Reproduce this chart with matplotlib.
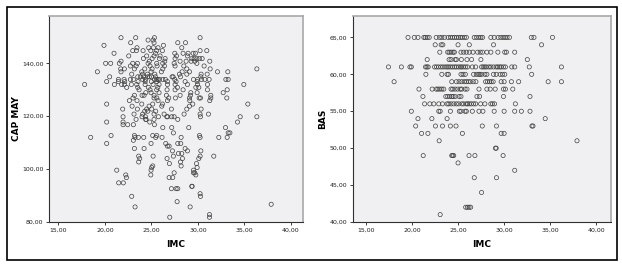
"""IMC vs CAP MAY and IMC vs BAS scatter plots"""

import matplotlib.pyplot as plt
from matplotlib.patches import Rectangle
from matplotlib.ticker import FuncFormatter

# left panel: IMC vs CAP MAY
imc_cap = [
    21.74, 23.32, 25.33, 30.24,
    24.65, 25.19,
    22.78, 25.29, 27.84, 28.67,
    19.91, 26.30,
    23.46, 24.72, 25.22, 25.72, 28.27,
    23.00, 23.39, 24.11, 24.94, 25.58, 26.19, 30.24, 30.96,
    20.99, 25.44, 27.52, 28.41, 28.95, 29.49, 29.74,
    22.57, 24.50, 25.29, 25.94, 27.70, 28.88,
    24.15, 25.08, 25.87, 26.48, 27.55, 29.35, 29.60, 29.89, 30.17, 30.46,
    21.74, 24.79, 26.44, 28.09, 28.74, 29.28, 29.67, 31.28,
    20.09, 20.63, 21.56, 23.00, 23.50, 24.65, 25.58, 26.23, 27.45, 29.89,
    22.75, 23.36, 24.86, 25.62, 26.41, 27.55, 28.49, 30.67,
    21.71, 22.10, 23.18, 24.29, 25.08, 26.23, 28.81, 31.32, 36.34,
    19.20, 21.74, 23.97, 24.97, 26.08, 28.31, 29.10, 32.11, 33.22,
    22.89, 24.07, 24.58, 25.37, 28.02, 28.81, 30.35, 31.00,
    20.52, 23.54, 23.82, 24.18, 24.61, 24.79, 25.01, 25.44, 27.23, 27.34, 28.13, 30.32,
    21.46, 22.07, 22.75, 23.07, 24.07, 24.36, 25.33, 25.58, 25.72, 25.87,
    26.23, 26.51, 27.52, 29.53, 29.96, 30.39, 30.75, 31.21, 33.01, 33.26,
    20.20, 21.46, 22.14, 23.57, 24.33, 25.01, 25.58, 26.73, 27.66, 28.63, 29.92,
    17.83, 21.03, 21.81, 22.10, 22.85, 23.43, 24.33, 25.19, 25.83, 26.73,
    27.55, 28.88, 29.96, 31.03, 34.94,
    22.35, 23.54, 24.68, 25.69, 27.80, 29.78, 30.10,
    23.68, 24.86, 25.58, 26.69, 27.55, 28.41, 31.03, 33.15,
    24.40, 24.97, 25.83, 29.24, 29.92, 32.72,
    23.18, 24.00, 24.22, 25.29, 26.62, 28.09, 29.20, 31.39,
    23.03, 25.29, 25.58, 26.87, 27.59, 29.10, 30.14, 30.28, 31.39, 33.11,
    22.64, 23.46, 25.72, 26.73, 29.13, 31.28,
    20.20, 23.97, 25.15, 26.19, 29.45, 35.37,
    22.93, 24.76, 26.12, 29.10,
    21.92, 23.50, 24.50, 25.04, 27.16, 28.81, 30.35,
    24.29, 24.61, 25.47,
    23.14, 24.07, 25.29, 26.37, 28.52, 30.24, 31.14,
    21.96, 24.00, 24.36, 25.76, 26.66, 26.76, 27.19, 27.45, 30.28, 34.55, 36.34,
    23.36, 24.40, 24.43, 25.29, 27.84,
    20.20, 21.96, 24.83, 34.26,
    21.96, 22.46, 23.07, 25.33,
    26.23, 27.19, 29.02, 32.97,
    27.37, 33.26, 33.44,
    20.67, 23.18, 25.15, 25.58, 30.17,
    18.48, 23.25, 23.61, 24.18, 25.47, 26.15, 28.20, 30.24, 32.25, 33.15,
    23.07,
    20.20, 24.97, 26.55, 27.84, 28.16,
    26.73, 26.91,
    23.18, 24.22, 28.63,
    27.27, 28.88, 30.32,
    27.91, 28.27,
    23.64, 25.19, 27.37, 30.24, 31.71,
    23.75, 26.69, 28.34, 30.10,
    23.64, 28.13,
    26.94, 29.85,
    25.15, 28.20,
    25.04, 29.92,
    21.28, 24.97, 29.53,
    27.45, 29.53, 29.67,
    22.25, 24.94, 29.78,
    22.32, 26.91, 27.30,
    21.49, 21.99,
    29.35, 29.38,
    27.16, 27.66, 27.84,
    30.24,
    22.89, 30.28,
    27.77,
    37.88,
    23.25, 29.17,
    31.25,
    26.98, 31.25,
]
cap_may = (
    [149.7] * 4 + [148.8] * 2 + [147.8] * 4 + [146.8] * 2 + [145.9] * 5
    + [144.8] * 8 + [143.8] * 7 + [142.8] * 6 + [141.8] * 10 + [140.8] * 8
    + [140.0] * 10 + [139.0] * 8 + [137.9] * 9 + [136.8] * 9 + [135.9] * 8
    + [134.9] * 12 + [133.9] * 20 + [133.1] * 11 + [132.0] * 15 + [130.9] * 7
    + [130.0] * 8 + [128.9] * 6 + [127.9] * 8 + [126.9] * 10 + [125.9] * 6
    + [124.6] * 6 + [123.8] * 4 + [122.7] * 7 + [121.9] * 3 + [120.8] * 7
    + [119.8] * 11 + [118.8] * 5 + [117.8] * 4 + [116.8] * 4 + [115.7] * 4
    + [113.7] * 3 + [112.7] * 5 + [112.0] * 10 + [110.9] * 1 + [109.7] * 5
    + [108.7] * 2 + [107.8] * 3 + [106.9] * 3 + [105.9] * 2 + [104.9] * 5
    + [104.0] * 4 + [102.7] * 2 + [102.1] * 2 + [101.2] * 2 + [100.6] * 2
    + [99.6] * 3 + [98.6] * 3 + [97.8] * 3 + [96.8] * 3 + [94.8] * 2
    + [93.5] * 2 + [92.6] * 3 + [90.7] * 1 + [89.7] * 2 + [87.7] * 1
    + [86.7] * 1 + [85.7] * 2 + [82.8] * 1 + [81.8] * 2
)

# right panel: IMC vs BAS, grouped by BAS value
bas_rows = {
    65: [19.57, 20.25, 20.65, 21.29, 21.44, 21.65, 21.87, 22.63, 22.99, 23.24,
         23.53, 23.92, 24.17, 24.39, 24.60, 24.82, 25.04, 25.25, 25.43, 25.68,
         25.90, 26.76, 27.01, 27.27, 27.48, 27.66, 28.56, 28.92, 29.35, 29.64,
         29.89, 30.11, 30.32, 30.58, 32.95, 33.24, 35.25],
    64: [22.52, 23.17, 23.35, 25.00, 26.22, 28.85, 34.06],
    63: [23.02, 23.88, 24.03, 24.24, 24.46, 24.60, 25.32, 25.61, 25.90, 26.22,
         26.62, 27.12, 27.41, 27.66, 28.13, 28.56, 29.32, 30.07, 30.25, 31.15],
    62: [21.65, 24.03, 24.24, 24.68, 24.82, 25.36, 25.97, 26.47, 27.48, 32.52],
    61: [17.45, 18.85, 19.78, 19.93, 21.47, 21.62, 21.76, 22.45, 22.66, 22.88,
         23.13, 23.35, 23.60, 23.81, 23.99, 24.21, 24.42, 24.64, 24.82, 25.04,
         25.25, 25.40, 25.61, 25.83, 26.04, 26.55, 26.91, 27.55, 27.73, 27.91,
         28.09, 28.35, 28.56, 28.85, 29.14, 29.32, 29.53, 29.68, 29.93, 30.14,
         30.83, 31.15, 32.73, 36.22],
    60: [21.51, 23.24, 23.81, 23.96, 25.32, 25.54, 25.79, 26.69, 26.98, 27.23,
         27.37, 27.55, 27.91, 28.13, 28.85, 29.14, 29.57, 29.82, 30.07, 32.99],
    59: [18.06, 24.32, 24.82, 25.11, 25.40, 25.68, 25.90, 26.12, 26.33, 26.65,
         26.94, 27.99, 28.20, 28.42, 28.60, 28.81, 29.68, 30.00, 30.79, 31.58,
         34.78, 36.22],
    58: [20.76, 22.19, 22.63, 22.81, 23.02, 23.24, 23.45, 24.24, 24.42, 24.68,
         24.96, 25.25, 25.40, 25.76, 25.97, 27.27, 28.13, 28.49, 29.03, 29.93,
         30.14, 30.94],
    57: [21.19, 23.67, 23.88, 24.10, 24.32, 24.46, 24.68, 25.11, 25.32, 27.05,
         27.34, 29.93, 32.81],
    56: [21.37, 21.94, 22.37, 22.91, 23.31, 23.81, 23.99, 24.24, 24.53, 24.82,
         25.07, 25.40, 25.61, 25.90, 26.04, 26.22, 26.44, 26.69, 26.91, 27.45,
         27.91, 28.56, 28.74, 28.96, 31.22],
    55: [19.93, 22.91, 23.06, 24.17, 25.14, 25.32, 25.76, 25.90, 26.55, 27.27,
         27.70, 28.92, 30.00, 31.15, 31.87, 32.81],
    54: [20.65, 22.16, 23.81, 34.46],
    53: [20.40, 22.55, 23.31, 24.17, 24.78, 27.63, 29.17, 33.02, 33.13],
    52: [21.04, 21.73, 25.47, 29.68, 30.00],
    51: [22.95, 37.91],
    50: [29.06, 29.14],
    49: [21.22, 24.32, 24.42, 24.53, 26.19, 26.83, 29.89],
    48: [25.00],
    47: [31.15],
    46: [26.76, 29.17],
    44: [27.55],
    42: [25.83, 26.01, 26.19, 26.37],
    41: [23.06],
}
imc_bas = [x for v in bas_rows for x in bas_rows[v]]
bas = [v for v in bas_rows for x in bas_rows[v]]

comma_fmt = FuncFormatter(lambda v, p: f"{v:.2f}".replace(".", ","))

fig = plt.figure(figsize=(6.22, 2.64), dpi=100)
W, H = 622, 264

# outer frame
fig.patches.append(Rectangle((7 / W, 1 - 260 / H), 610 / W, 253 / H,
                             transform=fig.transFigure, fill=False,
                             edgecolor="black", linewidth=1.2))


def scatter_panel(rect, x, y, ylabel, xlim, ylim, yticks, ylab_x):
    ax = fig.add_axes(rect)
    ax.set_facecolor("#f0f0f2")
    ax.scatter(x, y, s=9, facecolors="none", edgecolors="#404040",
               linewidths=0.5, zorder=3)
    ax.set_xlim(*xlim)
    ax.set_ylim(*ylim)
    ax.set_xticks([15, 20, 25, 30, 35, 40])
    ax.set_yticks(yticks)
    ax.xaxis.set_major_formatter(comma_fmt)
    ax.yaxis.set_major_formatter(comma_fmt)
    ax.tick_params(labelsize=4.5, length=2.5, width=0.6, pad=1.5,
                   colors="#202020")
    for side in ["left", "bottom"]:
        ax.spines[side].set_color("#303030")
        ax.spines[side].set_linewidth(0.8)
    for side in ["top", "right"]:
        ax.spines[side].set_color("#a8a8a8")
        ax.spines[side].set_linewidth(1.2)
    ax.set_xlabel("IMC", fontsize=6.5, fontweight="bold")
    ax.set_ylabel(ylabel, fontsize=6.5, fontweight="bold")
    ax.xaxis.set_label_coords(0.5, -0.087)
    ax.yaxis.set_label_coords(ylab_x, 0.5)
    return ax


def px_rect(l, t, r, b):
    return [l / W, 1 - b / H, (r - l) / W, (b - t) / H]


scatter_panel(px_rect(49, 16, 303, 222), imc_cap, cap_may, "CAP MAY",
              (14.0, 41.3), (80, 157.9), [80, 100, 120, 140], -0.11)
scatter_panel(px_rect(353, 16, 611, 222), imc_bas, bas, "BAS",
              (13.6, 41.6), (40, 67.9), [40, 45, 50, 55, 60, 65], -0.1)

fig.savefig("out.png", dpi=100)
